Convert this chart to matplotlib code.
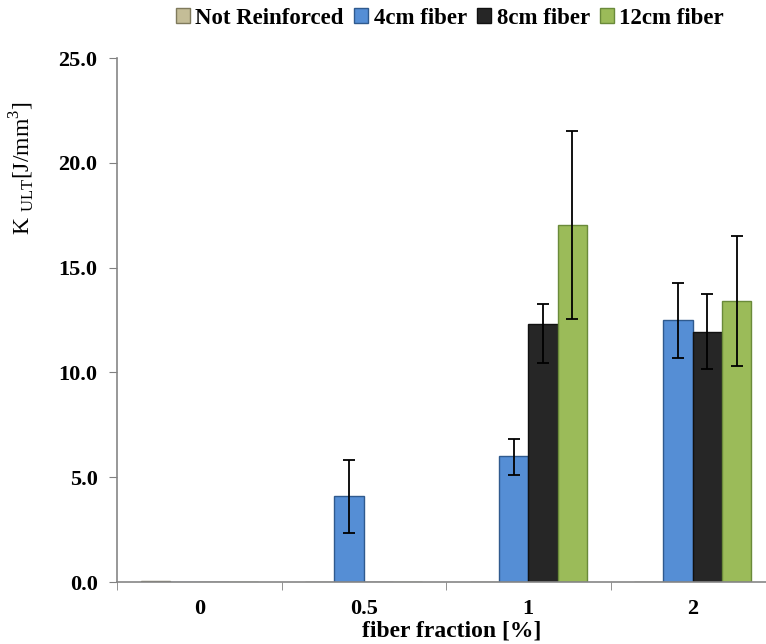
import numpy as np
import matplotlib
matplotlib.use("Agg")
import matplotlib.pyplot as plt
from matplotlib.patches import Patch

plt.rcParams['font.family'] = ['Liberation Serif', 'DejaVu Serif']
plt.rcParams['mathtext.fontset'] = 'custom'
plt.rcParams['mathtext.rm'] = 'Liberation Serif'

categories = ['0', '0.5', '1', '2']
series_names = ['Not Reinforced', '4cm fiber', '8cm fiber', '12cm fiber']
colors = ['#C4BD97', '#558ED5', '#262626', '#9BBB59']
edge_colors = ['#7F7A5C', '#2F5A8E', '#111111', '#6A8A3A']

values = {
    'Not Reinforced': [0.05, 0.0, 0.0, 0.0],
    '4cm fiber':      [0.0, 4.1, 6.0, 12.5],
    '8cm fiber':      [0.0, 0.0, 12.3, 11.95],
    '12cm fiber':     [0.0, 0.0, 17.05, 13.4],
}
err_low = {
    'Not Reinforced': [0.0, 0.0, 0.0, 0.0],
    '4cm fiber':      [0.0, 1.74, 0.9, 1.8],
    '8cm fiber':      [0.0, 0.0, 1.85, 1.8],
    '12cm fiber':     [0.0, 0.0, 4.48, 3.1],
}
err_high = {
    'Not Reinforced': [0.0, 0.0, 0.0, 0.0],
    '4cm fiber':      [0.0, 1.74, 0.82, 1.75],
    '8cm fiber':      [0.0, 0.0, 0.95, 1.8],
    '12cm fiber':     [0.0, 0.0, 4.48, 3.12],
}

fig = plt.figure(figsize=(7.66, 6.44), dpi=100)
ax = fig.add_axes([117/766, 62/644, 658/766, 524/644])

x = np.arange(len(categories))
width = 0.178
offsets = [-1.5, -0.5, 0.5, 1.5]

for i, name in enumerate(series_names):
    vals = np.array(values[name])
    lo = np.array(err_low[name])
    hi = np.array(err_high[name])
    pos = x + offsets[i] * width
    ax.bar(pos, vals, width=width, color=colors[i], edgecolor=edge_colors[i],
           linewidth=1.0, zorder=2)
    mask = (lo + hi) > 0
    if mask.any():
        ax.errorbar(pos[mask], vals[mask], yerr=[lo[mask], hi[mask]], fmt='none',
                    ecolor='black', elinewidth=1.3, capsize=4, capthick=1.3, zorder=3)

ax.set_xlim(-0.5, 3.5)
ax.set_ylim(0, 25)
yt = np.arange(0, 25.1, 5)
ax.set_yticks(yt)
ax.set_yticklabels([f'{v:.1f}' for v in yt], fontsize=16, fontweight='bold')
ax.set_xticks(x)
ax.set_xticklabels(categories, fontsize=16, fontweight='bold')
ax.set_xticks(np.arange(-0.5, 3.6, 1.0), minor=True)
ax.tick_params(axis='x', which='major', length=0, pad=12)
ax.tick_params(axis='x', which='minor', length=6, color='#808080', direction='out')
ax.tick_params(axis='y', length=6, color='#808080', direction='out', pad=8)

for s in ['top', 'right']:
    ax.spines[s].set_visible(False)
for s in ['left', 'bottom']:
    ax.spines[s].set_color('#868686')
    ax.spines[s].set_linewidth(1.2)

fig.text(452/766, 1 - 631/644, 'fiber fraction [%]', fontsize=17, fontweight='bold',
         ha='center', va='center')
fig.text(22/766, 1 - 168/644, r'K $_{\mathrm{ULT}}$[J/mm$^3$]', rotation=90,
         fontsize=17, ha='center', va='center')

handles = [Patch(facecolor=c, edgecolor=e, linewidth=1.0)
           for c, e in zip(colors, edge_colors)]
fig.legend(handles, series_names, loc='center', bbox_to_anchor=(450/766, 1 - 18/644),
           ncol=4, frameon=False, prop={'size': 16.5, 'weight': 'bold'},
           handlelength=0.6, handleheight=0.6, handletextpad=0.25, columnspacing=0.45)

fig.savefig('out.png', dpi=100)
